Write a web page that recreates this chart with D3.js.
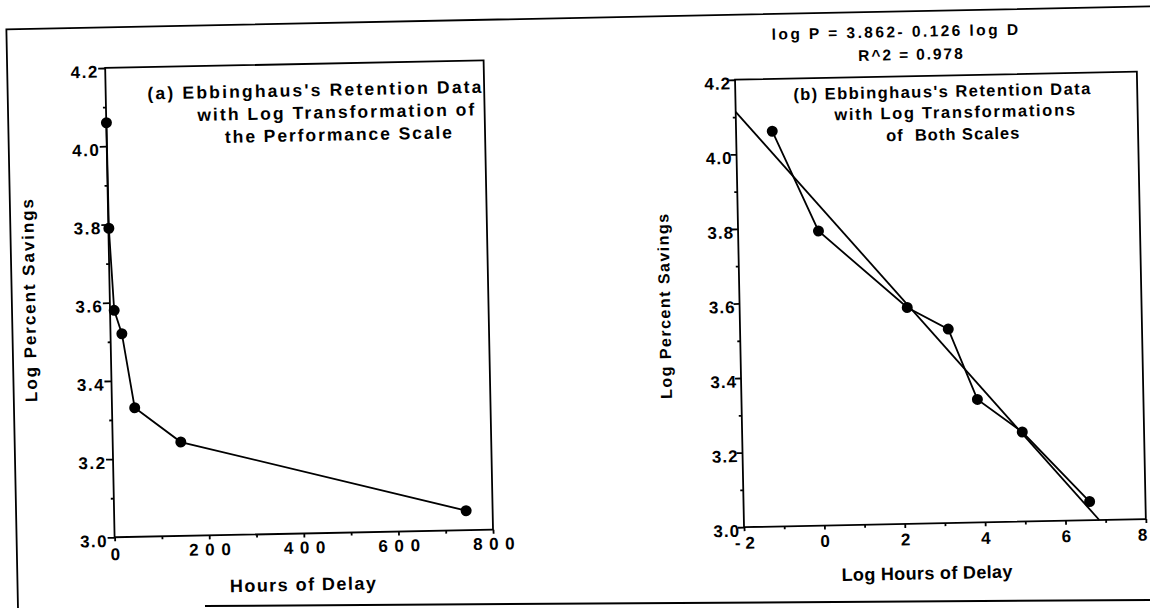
<!DOCTYPE html>
<html>
<head>
<meta charset="utf-8">
<script src="https://cdn.jsdelivr.net/npm/d3@7"></script>
<style>
  body { margin: 0; background: #fff; }
  svg { display: block; font-family: "Liberation Sans", Arial, Helvetica, sans-serif; }
</style>
</head>
<body>
<div id="viz"></div>
<script>
// values (Ebbinghaus savings data)
var hours = [0.33, 1, 8.8, 24, 48, 144, 744];
var logHours = [-1.1, 0, 2.17, 3.18, 3.87, 4.97, 6.61];
var logSavings = [4.06, 3.79, 3.58, 3.52, 3.33, 3.24, 3.05];

// fitted line printed above panel (b)
var fitIntercept = 3.862;
var fitSlope = -0.126;
var rSquared = 0.978;

// tick labels
var yTicks = [3.0, 3.2, 3.4, 3.6, 3.8, 4.0, 4.2];
var hourTicks = [0, 200, 400, 600, 800];
var logHourTicks = [-2, 0, 2, 4, 6, 8];

var titleA = ["(a) Ebbinghaus's Retention Data", "with Log Transformation of", "the Performance Scale"];
var titleB = ["(b) Ebbinghaus's Retention Data", "with Log Transformations", "of  Both Scales"];

var width = 1150;
var height = 608;
var lw = 1.8; // stroke width of the scan lines

var svg = d3.select("#viz")
    .append("svg")
    .attr("width", width)
    .attr("height", height);

svg.append("rect").attr("width", width).attr("height", height).attr("fill", "#fff");

// bottom edge of the page (not parallel to the rest of the scan)
svg.append("line")
    .attr("x1", 205).attr("y1", 606)
    .attr("x2", width).attr("y2", 600)
    .attr("stroke", "#000").attr("stroke-width", 2);

// the whole scan sits slightly rotated
var page = svg.append("g").attr("transform", "rotate(-1.15, 575, 304)");

// outer frame, left and top sides
page.append("path")
    .attr("d", "M12,660 V18 H1200")
    .attr("fill", "none")
    .attr("stroke", "#000")
    .attr("stroke-width", lw);

function addText(g, str, x, y, size, len) {
    var t = g.append("text")
        .attr("x", x)
        .attr("y", y)
        .attr("font-size", size)
        .attr("font-weight", "bold")
        .style("white-space", "pre")
        .text(str);
    if (len) t.attr("textLength", len).attr("lengthAdjust", "spacing");
    return t;
}

// draws box, major + minor ticks and tick labels
function drawFrame(g, x, y, xTicks, xMinor, o) {
    var x0 = x.range()[0], x1 = x.range()[1];
    var y0 = y.range()[0], y1 = y.range()[1];

    g.append("rect")
        .attr("x", x0).attr("y", y1)
        .attr("width", x1 - x0).attr("height", y0 - y1)
        .attr("fill", "none").attr("stroke", "#000").attr("stroke-width", lw);

    // minor ticks
    g.append("g")
        .attr("transform", "translate(" + x0 + ",0)")
        .call(d3.axisLeft(y).tickValues(d3.range(3.1, 4.2, 0.2)).tickSize(3).tickFormat(""));
    g.append("g")
        .attr("transform", "translate(0," + y0 + ")")
        .call(d3.axisBottom(x).tickValues(xMinor).tickSize(3).tickFormat(""));

    var ya = g.append("g")
        .attr("transform", "translate(" + x0 + ",0)")
        .call(d3.axisLeft(y).tickValues(yTicks).tickSize(o.yTick).tickFormat(d3.format(".1f")));
    ya.selectAll("text")
        .attr("x", o.yLabelX)
        .attr("dy", 9)
        .attr("font-size", 17)
        .attr("font-weight", "bold")
        .style("letter-spacing", o.yLs + "px");

    var xa = g.append("g")
        .attr("transform", "translate(0," + y0 + ")")
        .call(d3.axisBottom(x).tickValues(xTicks).tickSize(4).tickFormat(o.xFormat));
    xa.selectAll("text")
        .attr("y", o.xLabelY)
        .attr("dy", 0)
        .attr("dx", o.xLs / 2)
        .attr("font-size", 17)
        .attr("font-weight", "bold")
        .style("white-space", "pre")
        .style("letter-spacing", o.xLs + "px");

    g.selectAll(".domain").remove();
    g.selectAll(".tick line").attr("stroke", "#000").attr("stroke-width", lw);
    g.selectAll(".tick text").attr("fill", "#000").attr("font-family", null);
    return xa;
}

// ---------- panel (a) ----------
var xa = d3.scaleLinear().domain([0, 800]).range([110, 488.5]);
var ya = d3.scaleLinear().domain([3.0, 4.2]).range([528, 58.6]);
var ga = page.append("g");

var xaAxis = drawFrame(ga, xa, ya, hourTicks, [100, 300, 500, 700], {
    yTick: 7, yLabelX: -6.5, yLs: 1.5,
    xLabelY: 20, xLs: 6.6, xFormat: d3.format("d")
});
// the "0" sits a little lower in the scan
xaAxis.selectAll(".tick text").filter(function(d) { return d === 0; }).attr("y", 23);

var ptsA = hours.map(function(h, i) { return [h, logSavings[i]]; });

ga.append("path")
    .datum(ptsA)
    .attr("fill", "none")
    .attr("stroke", "#000")
    .attr("stroke-width", lw)
    .attr("d", d3.line().x(function(d) { return xa(d[0]); }).y(function(d) { return ya(d[1]); }));

ga.selectAll(".pt")
    .data(ptsA)
    .enter()
    .append("circle")
    .attr("cx", function(d) { return xa(d[0]); })
    .attr("cy", function(d) { return ya(d[1]); })
    .attr("r", 5.5)
    .attr("fill", "#000");

addText(ga, titleA[0], 151.8, 90.9, 17.5, 334);
addText(ga, titleA[1], 201.2, 113.4, 17.5, 277);
addText(ga, titleA[2], 228.4, 135.9, 17.5, 227);

addText(ga, "Hours of Delay", 297.3 - 73, 585.2, 18, 146);

addText(ga.append("g").attr("transform", "translate(35.3,289.6) rotate(-90)"),
    "Log Percent Savings", -101.5, 0, 17, 203);

// ---------- panel (b) ----------
var xb = d3.scaleLinear().domain([-2, 8]).range([739.5, 1141.4]);
var yb = d3.scaleLinear().domain([3.0, 4.2]).range([530.5, 83]);
var gb = page.append("g");

var xbAxis = drawFrame(gb, xb, yb, logHourTicks, [-1, 1, 3, 5, 7], {
    yTick: 6, yLabelX: -4, yLs: 1,
    xLabelY: 21.5, xLs: 0,
    xFormat: function(d) { return d < 0 ? "- " + (-d) : String(d); }
});
// last label sits right on the page edge; nudge it in so it stays whole
xbAxis.selectAll(".tick text").filter(function(d) { return d === 8; }).attr("dx", -4);

// fitted line, from the left axis down to the bottom axis
var xEnd = (fitIntercept - yb.domain()[0]) / -fitSlope;
var fitPts = [xb.domain()[0], xEnd].map(function(v) { return [v, fitIntercept + fitSlope * v]; });

gb.append("path")
    .datum(fitPts)
    .attr("fill", "none")
    .attr("stroke", "#000")
    .attr("stroke-width", lw)
    .attr("d", d3.line().x(function(d) { return xb(d[0]); }).y(function(d) { return yb(d[1]); }));

var ptsB = logHours.map(function(h, i) { return [h, logSavings[i]]; });

gb.append("path")
    .datum(ptsB)
    .attr("fill", "none")
    .attr("stroke", "#000")
    .attr("stroke-width", lw)
    .attr("d", d3.line().x(function(d) { return xb(d[0]); }).y(function(d) { return yb(d[1]); }));

gb.selectAll(".pt")
    .data(ptsB)
    .enter()
    .append("circle")
    .attr("cx", function(d) { return xb(d[0]); })
    .attr("cy", function(d) { return yb(d[1]); })
    .attr("r", 5.5)
    .attr("fill", "#000");

addText(gb, titleB[0], 797.5, 104.5, 16.5, 297);
addText(gb, titleB[1], 838.1, 125.5, 16.5, 240.7);
addText(gb, titleB[2], 889.4, 147.5, 16.5, 133.3);

addText(gb, "log P = " + fitIntercept.toFixed(3) + "- " + Math.abs(fitSlope).toFixed(3) + " log D",
    777.1, 43.7, 15.5, 246.3);
addText(gb, "R^2 = " + rSquared.toFixed(3), 863.2, 66.7, 15.5, 104.4);

addText(gb, "Log Hours of Delay", 921.5 - 85.4, 586.4, 18, 170.8);

addText(gb.append("g").attr("transform", "translate(670,308.2) rotate(-90)"),
    "Log Percent Savings", -92.4, 0, 16, 184.8);
</script>
</body>
</html>
